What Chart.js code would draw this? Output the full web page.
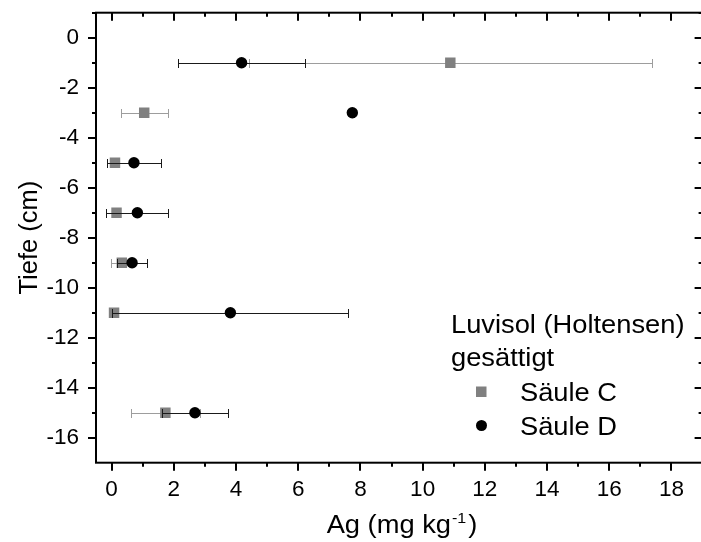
<!DOCTYPE html>
<html>
<head>
<meta charset="utf-8">
<script src="https://cdn.jsdelivr.net/npm/chart.js@4/dist/chart.umd.min.js"></script>
<style>
  html, body { margin: 0; padding: 0; background: #fff; overflow: hidden; }
  #wrap { width: 701px; height: 542px; overflow: hidden; }
</style>
</head>
<body>
<div id="wrap"><canvas id="c" width="710" height="542"></canvas></div>
<script>
// Ag-Tiefenprofil, Säulen C und D, mit horizontalen Fehlerbalken
const FONT = "'Liberation Sans', Arial, sans-serif";
const GREY = '#808080', GREY_ERR = '#9d9d9d', INK = '#000000';
const STRETCH = 1.07; // Schrift im Original leicht in die Breite gezogen

const depth = [-1, -3, -5, -7, -9, -11, -15];
const agC = [10.89, 1.05, 0.11, 0.16, 0.33, 0.08, 1.73];
const errC = [6.47, 0.76, 0.05, 0.05, 0.35, 0.05, 1.11];
const agD = [4.18, 7.74, 0.72, 0.83, 0.66, 3.82, 2.68];
const errD = [2.03, 0.05, 0.88, 1.0, 0.48, 3.79, 1.07];

const xTicks = [0, 2, 4, 6, 8, 10, 12, 14, 16, 18];
const xMinor = [1, 3, 5, 7, 9, 11, 13, 15, 17];
const yTicks = [0, -2, -4, -6, -8, -10, -12, -14, -16];
const yMinor = [1, -1, -3, -5, -7, -9, -11, -13, -15];

const legendTitle = ['Luvisol (Holtensen)', 'gesättigt'];

function pts(xs) { return xs.map((x, i) => ({ x, y: depth[i] })); }

function stretched(ctx, text, x, y) {
  ctx.save();
  ctx.translate(x, y);
  ctx.scale(STRETCH, 1);
  ctx.fillText(text, 0, 0);
  ctx.restore();
  return ctx.measureText(text).width * STRETCH;
}

const noPad = (s) => { s.paddingLeft = 0; s.paddingRight = 0; s.paddingTop = 0; s.paddingBottom = 0; };

const decor = {
  id: 'decor',
  beforeDatasetDraw(chart, args) {
    const ds = chart.data.datasets[args.index];
    const { ctx, scales: { x, y } } = chart;
    ctx.save();
    ctx.strokeStyle = ds.errColor;
    ctx.lineWidth = 1;
    ds.data.forEach((p, i) => {
      const e = ds.xErr[i];
      const x0 = Math.round(x.getPixelForValue(p.x - e)) + 0.5;
      const x1 = Math.round(x.getPixelForValue(p.x + e)) + 0.5;
      const py = Math.round(y.getPixelForValue(p.y)) + 0.5;
      ctx.beginPath();
      ctx.moveTo(x0, py); ctx.lineTo(x1, py);
      ctx.moveTo(x0, py - 4.5); ctx.lineTo(x0, py + 4.5);
      ctx.moveTo(x1, py - 4.5); ctx.lineTo(x1, py + 4.5);
      ctx.stroke();
    });
    ctx.restore();
  },
  afterDraw(chart) {
    const { ctx, chartArea: a, scales: { x, y } } = chart;
    ctx.save();
    ctx.strokeStyle = INK;
    ctx.lineWidth = 2;
    ctx.strokeRect(a.left, a.top, a.right - a.left, a.bottom - a.top);

    const tick = (x0, y0, x1, y1) => { ctx.beginPath(); ctx.moveTo(x0, y0); ctx.lineTo(x1, y1); ctx.stroke(); };
    xTicks.forEach(v => { const px = Math.round(x.getPixelForValue(v)); tick(px, a.bottom, px, a.bottom + 8); tick(px, a.top, px, a.top + 8); });
    xMinor.forEach(v => { const px = Math.round(x.getPixelForValue(v)); tick(px, a.bottom, px, a.bottom + 4); tick(px, a.top, px, a.top + 4); });
    yTicks.forEach(v => { const py = Math.round(y.getPixelForValue(v)); tick(a.left, py, a.left - 8, py); tick(a.right, py, a.right - 8, py); });
    yMinor.forEach(v => { const py = Math.round(y.getPixelForValue(v)); tick(a.left, py, a.left - 4, py); tick(a.right, py, a.right - 4, py); });

    // Achsentitel
    ctx.fillStyle = INK;
    ctx.textBaseline = 'alphabetic';
    ctx.textAlign = 'left';
    const t1 = 'Ag (mg kg', sup = '-1', t2 = ')';
    ctx.font = `25.5px ${FONT}`;
    const w1 = ctx.measureText(t1).width * STRETCH, w2 = ctx.measureText(t2).width * STRETCH;
    ctx.font = `15px ${FONT}`;
    const ws = ctx.measureText(sup).width * STRETCH;
    const tx = 402 - (w1 + ws + w2 + 3) / 2;
    const by = 533;
    ctx.font = `25.5px ${FONT}`;
    stretched(ctx, t1, tx, by);
    ctx.font = `15px ${FONT}`;
    stretched(ctx, sup, tx + w1 + 1, by - 10);
    ctx.font = `25.5px ${FONT}`;
    stretched(ctx, t2, tx + w1 + ws + 3, by);

    ctx.save();
    ctx.translate(37, (a.top + a.bottom) / 2);
    ctx.rotate(-Math.PI / 2);
    ctx.textAlign = 'center';
    ctx.fillText('Tiefe (cm)', 0, 0);
    ctx.restore();

    // Legende
    ctx.font = `25.5px ${FONT}`;
    ctx.textAlign = 'left';
    stretched(ctx, legendTitle[0], 451, 333);
    stretched(ctx, legendTitle[1], 451, 366);
    chart.data.datasets.forEach((ds, i) => {
      const cy = 391.5 + i * 34;
      ctx.fillStyle = ds.backgroundColor;
      if (ds.pointStyle === 'rect') ctx.fillRect(476, cy - 5, 10.5, 10.5);
      else { ctx.beginPath(); ctx.arc(481.5, cy, 5.5, 0, Math.PI * 2); ctx.fill(); }
      ctx.fillStyle = INK;
      stretched(ctx, ds.label, 520, cy + 9.5);
    });
    ctx.restore();
  }
};

new Chart(document.getElementById('c'), {
  type: 'scatter',
  data: {
    datasets: [
      { label: 'Säule C', data: pts(agC), xErr: errC, errColor: GREY_ERR, backgroundColor: GREY, borderColor: GREY,
        pointStyle: 'rect', pointRadius: 7.4, pointHoverRadius: 7.4, borderWidth: 0, order: 2 },
      { label: 'Säule D', data: pts(agD), xErr: errD, errColor: '#1a1a1a', backgroundColor: INK, borderColor: INK,
        pointStyle: 'circle', pointRadius: 5.7, pointHoverRadius: 5.7, borderWidth: 0, order: 1 },
    ],
  },
  options: {
    responsive: false,
    animation: false,
    events: [],
    layout: { padding: { left: 0, right: 3.6, top: 12.7, bottom: 0 } },
    plugins: { legend: { display: false }, tooltip: { enabled: false } },
    scales: {
      x: {
        type: 'linear', min: -0.5, max: 19,
        afterBuildTicks: (s) => { s.ticks = xTicks.map(v => ({ value: v })); },
        afterFit: (s) => { s.height = 79.3; noPad(s); },
        grid: { display: true, drawOnChartArea: false, drawTicks: true, tickLength: 8, color: 'rgba(0,0,0,0)' },
        border: { display: false },
        ticks: { color: INK, padding: 6, maxRotation: 0, font: { family: FONT, size: 22.5 } },
      },
      y: {
        type: 'linear', min: -17, max: 1,
        afterBuildTicks: (s) => { s.ticks = yTicks.map(v => ({ value: v })); },
        afterFit: (s) => { s.width = 96; noPad(s); },
        grid: { display: true, drawOnChartArea: false, drawTicks: true, tickLength: 8, color: 'rgba(0,0,0,0)' },
        border: { display: false },
        ticks: { color: INK, padding: 9, font: { family: FONT, size: 22.5 } },
      },
    },
  },
  plugins: [decor],
});
</script>
</body>
</html>
